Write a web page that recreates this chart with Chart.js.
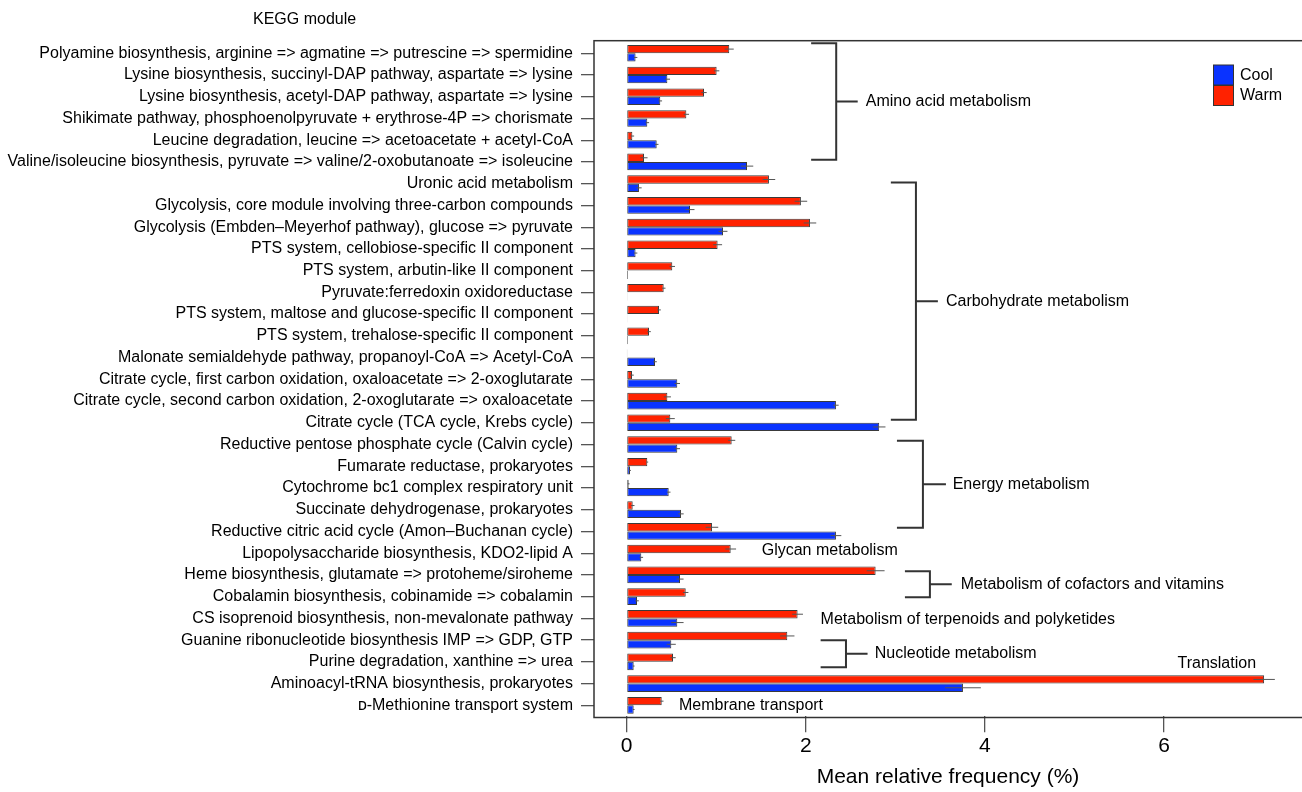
<!DOCTYPE html>
<html><head><meta charset="utf-8">
<script src="https://cdn.jsdelivr.net/npm/chart.js@4"></script>
<style>html,body{margin:0;padding:0;background:#fff}#wrap{width:1302px;height:792px}</style>
</head><body><div id="wrap"><canvas id="c" width="1302" height="792"></canvas></div>
<script>
const categories = [
  "Polyamine biosynthesis, arginine => agmatine => putrescine => spermidine",
  "Lysine biosynthesis, succinyl-DAP pathway, aspartate => lysine",
  "Lysine biosynthesis, acetyl-DAP pathway, aspartate => lysine",
  "Shikimate pathway, phosphoenolpyruvate + erythrose-4P => chorismate",
  "Leucine degradation, leucine => acetoacetate + acetyl-CoA",
  "Valine/isoleucine biosynthesis, pyruvate => valine/2-oxobutanoate => isoleucine",
  "Uronic acid metabolism",
  "Glycolysis, core module involving three-carbon compounds",
  "Glycolysis (Embden\u2013Meyerhof pathway), glucose => pyruvate",
  "PTS system, cellobiose-specific II component",
  "PTS system, arbutin-like II component",
  "Pyruvate:ferredoxin oxidoreductase",
  "PTS system, maltose and glucose-specific II component",
  "PTS system, trehalose-specific II component",
  "Malonate semialdehyde pathway, propanoyl-CoA => Acetyl-CoA",
  "Citrate cycle, first carbon oxidation, oxaloacetate => 2-oxoglutarate",
  "Citrate cycle, second carbon oxidation, 2-oxoglutarate => oxaloacetate",
  "Citrate cycle (TCA cycle, Krebs cycle)",
  "Reductive pentose phosphate cycle (Calvin cycle)",
  "Fumarate reductase, prokaryotes",
  "Cytochrome bc1 complex respiratory unit",
  "Succinate dehydrogenase, prokaryotes",
  "Reductive citric acid cycle (Amon\u2013Buchanan cycle)",
  "Lipopolysaccharide biosynthesis, KDO2-lipid A",
  "Heme biosynthesis, glutamate => protoheme/siroheme",
  "Cobalamin biosynthesis, cobinamide => cobalamin",
  "CS isoprenoid biosynthesis, non-mevalonate pathway",
  "Guanine ribonucleotide biosynthesis IMP => GDP, GTP",
  "Purine degradation, xanthine => urea",
  "Aminoacyl-tRNA biosynthesis, prokaryotes",
  "\u1D05-Methionine transport system"
];
const warmValues = [1.146,1.005,0.864,0.667,0.064,0.194,1.589,1.946,2.047,1.016,0.51,0.414,0.362,0.25,0.003,0.06,0.455,0.488,1.173,0.231,0.023,0.068,0.953,1.162,2.78,0.66,1.909,1.794,0.518,7.117,0.392];
const coolValues = [0.10,0.455,0.376,0.231,0.336,1.344,0.138,0.708,1.076,0.10,0.016,0.01,0.005,0.015,0.317,0.566,2.337,2.82,0.566,0.038,0.47,0.607,2.337,0.164,0.596,0.116,0.566,0.499,0.079,3.755,0.079];
const warmErrors = [0.05,0.03,0.03,0.03,0.02,0.04,0.07,0.07,0.07,0.05,0.03,0.02,0.02,0.02,0,0.02,0.04,0.05,0.04,0.01,0.01,0.02,0.07,0.06,0.10,0.03,0.06,0.08,0.03,0.12,0.02];
const coolErrors = [0.02,0.03,0.02,0.02,0.02,0.07,0.03,0.05,0.05,0.02,0,0,0,0,0.02,0.03,0.03,0.07,0.03,0.01,0.02,0.03,0.06,0.02,0.04,0.02,0.07,0.05,0.01,0.2,0.01];
const xTickValues = [0,2,4,6];
const groupNames = ["Amino acid metabolism","Carbohydrate metabolism","Energy metabolism","Glycan metabolism","Metabolism of cofactors and vitamins","Metabolism of terpenoids and polyketides","Nucleotide metabolism","Translation","Membrane transport"];
const groupStart = [0,6,18,23,24,26,27,29,30];
const groupEnd   = [5,17,22,23,25,26,28,29,30];

// layout of group annotations (x in axis units, y offsets in category bands)
const groupLayout = [
  {bracket:true, x0:2.06, x1:2.34, xt:2.58, xl:2.67, top:-0.46, bot:-0.10},
  {bracket:true, x0:2.95, x1:3.23, xt:3.475, xl:3.565, top:-0.05, bot:-0.14},
  {bracket:true, x0:3.018, x1:3.308, xt:3.565, xl:3.64, top:-0.17, bot:-0.17},
  {bracket:false, xl:1.508, dy:-0.10},
  {bracket:true, x0:3.107, x1:3.386, xt:3.63, xl:3.73, top:-0.17, bot:0.03},
  {bracket:false, xl:2.166, dy:0.05},
  {bracket:true, x0:2.166, x1:2.449, xt:2.69, xl:2.77, top:0.0, bot:0.25},
  {bracket:false, xl:6.15, dy:-0.92},
  {bracket:false, xl:0.585, dy:0.0}
];

const FONT = "'Liberation Sans', Arial, Helvetica, sans-serif";
Chart.defaults.font.family = FONT;
Chart.defaults.color = '#000';

const RED = '#FF2200', BLUE = '#0A33FF';

const framePlugin = {
  id:'frame',
  afterDraw(chart){
    const c = chart.ctx, a = chart.chartArea;
    c.save();
    c.strokeStyle = '#333'; c.lineWidth = 1.5;
    c.strokeRect(a.left, 40.7, 1310 - a.left, 717.5 - 40.7);
    c.restore();
  }
};

const errorPlugin = {
  id:'errs',
  afterDatasetsDraw(chart){
    const c = chart.ctx, xs = chart.scales.x;
    c.save();
    c.strokeStyle = '#555'; c.lineWidth = 1;
    chart.data.datasets.forEach((ds,i)=>{
      const meta = chart.getDatasetMeta(i);
      meta.data.forEach((bar,j)=>{
        const v = ds.data[j], e = ds.errors[j];
        if(!e) return;
        const x1 = xs.getPixelForValue(v-e), x2 = xs.getPixelForValue(v+e);
        c.beginPath(); c.moveTo(x1, bar.y); c.lineTo(x2, bar.y); c.stroke();
      });
    });
    c.restore();
  }
};

const annotPlugin = {
  id:'annot',
  afterDraw(chart){
    const c = chart.ctx, xs = chart.scales.x, ys = chart.scales.y;
    const band = ys.getPixelForValue(1) - ys.getPixelForValue(0);
    c.save();
    // title
    c.fillStyle = '#000'; c.font = '16px ' + FONT; c.textBaseline = 'middle'; c.textAlign = 'left';
    c.fillText('KEGG module', 253, 20);
    // groups
    c.strokeStyle = '#333'; c.lineWidth = 2;
    c.font = '16px ' + FONT;
    groupNames.forEach((name,g)=>{
      const L = groupLayout[g];
      if(L.bracket){
        const yt = ys.getPixelForValue(groupStart[g]) + L.top*band;
        const yb = ys.getPixelForValue(groupEnd[g]) + L.bot*band;
        const ym = (yt+yb)/2;
        const x0 = xs.getPixelForValue(L.x0), x1 = xs.getPixelForValue(L.x1), xt = xs.getPixelForValue(L.xt);
        c.beginPath();
        c.moveTo(x0, yt); c.lineTo(x1, yt); c.lineTo(x1, yb); c.lineTo(x0, yb);
        c.moveTo(x1, ym); c.lineTo(xt, ym);
        c.stroke();
        c.fillText(name, xs.getPixelForValue(L.xl), ym);
      } else {
        const y = ys.getPixelForValue(groupStart[g]) + L.dy*band;
        c.fillText(name, xs.getPixelForValue(L.xl), y);
      }
    });
    // legend
    const items = [['Cool', BLUE], ['Warm', RED]];
    items.forEach((it,k)=>{
      const y = 65 + k*20.5;
      c.fillStyle = it[1]; c.fillRect(1213.5, y, 20, 20);
      c.strokeStyle = '#333'; c.lineWidth = 1; c.strokeRect(1213.5, y, 20, 20);
      c.fillStyle = '#000'; c.fillText(it[0], 1240, y + 10.5);
    });
    c.restore();
  }
};

new Chart(document.getElementById('c').getContext('2d'), {
  type:'bar',
  data:{
    labels: categories,
    datasets:[
      {label:'Warm', data:warmValues, errors:warmErrors, backgroundColor:RED, borderColor:'#3a3a3a', borderWidth:1, borderSkipped:false},
      {label:'Cool', data:coolValues, errors:coolErrors, backgroundColor:BLUE, borderColor:'#3a3a3a', borderWidth:1, borderSkipped:false}
    ]
  },
  options:{
    indexAxis:'y', responsive:false, animation:false, devicePixelRatio:1,
    categoryPercentage:0.768, barPercentage:1.0,
    layout:{padding:{top:42.4, left:0, right:0, bottom:0}},
    plugins:{legend:{display:false}, tooltip:{enabled:false}},
    scales:{
      x:{
        type:'linear', min:-0.364, max:7.54,
        afterBuildTicks: s => { s.ticks = xTickValues.map(v => ({value:v})); },
        grid:{drawOnChartArea:false, tickLength:16, color:'#555', lineWidth:1.3},
        border:{display:false},
        ticks:{font:{size:21}, color:'#000', padding:1, maxRotation:0},
        title:{display:true, text:'Mean relative frequency (%)', font:{size:21}, color:'#000', padding:{top:0, bottom:2}},
        afterFit: s => { s.height = 792 - 716.2; }
      },
      y:{
        type:'category',
        grid:{drawOnChartArea:false, tickLength:13, color:'#555', lineWidth:1.3, offset:false},
        border:{display:false},
        ticks:{autoSkip:false, font:{size:16}, color:'#000', padding:8},
        afterFit: s => { s.width = 594; }
      }
    }
  },
  plugins:[errorPlugin, framePlugin, annotPlugin]
});
</script>
</body></html>
